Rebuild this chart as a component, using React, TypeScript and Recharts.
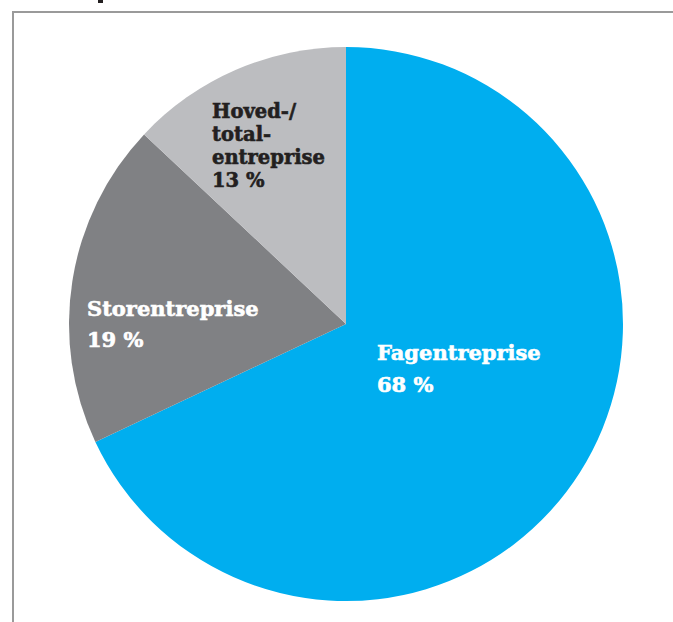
import React from 'react';
import { PieChart, Pie, Cell } from 'recharts';

const categories = ['Fagentreprise', 'Storentreprise', 'Hoved-/total-entreprise'];
const shares = [68, 19, 13];
const labelLines = [
  ['Fagentreprise', '68 %'],
  ['Storentreprise', '19 %'],
  ['Hoved-/', 'total-', 'entreprise', '13 %'],
];

const colors = ['#00aeef', '#808184', '#bcbdc0'];
const textColors = ['#ffffff', '#ffffff', '#231f20'];
// label block position relative to the pie centre (left x, first baseline y)
const labelPos = [
  { dx: 31, dy: 36, size: 21, lh: 32 },
  { dx: -259, dy: -8, size: 21, lh: 31 },
  { dx: -134, dy: -206, size: 19.5, lh: 23 },
];

const data = categories.map((name, i) => ({ name, value: shares[i] }));

const renderLabel = (props: any) => {
  const { cx, cy, index } = props;
  const p = labelPos[index];
  return (
    <text
      x={cx + p.dx}
      y={cy + p.dy}
      fill={textColors[index]}
      stroke={textColors[index]}
      strokeWidth={0.6}
      fontFamily="'DejaVu Serif', serif"
      fontWeight="bold"
      fontSize={p.size}
      textAnchor="start"
    >
      {labelLines[index].map((line, j) => (
        <tspan key={j} x={cx + p.dx} dy={j === 0 ? 0 : p.lh}>
          {line}
        </tspan>
      ))}
    </text>
  );
};

export default function App() {
  return (
    <div style={{ position: 'absolute', left: 0, top: 0, width: 673, height: 622, background: '#fff' }}>
      <div
        style={{
          position: 'absolute',
          left: 12,
          top: 11,
          right: 0,
          bottom: 0,
          borderLeft: '2px solid #9a9a9a',
          borderTop: '2px solid #9a9a9a',
        }}
      />
      <div style={{ position: 'absolute', left: 98, top: 0, width: 5, height: 3, background: '#231f20' }} />
      <div style={{ position: 'absolute', left: 0, top: 0 }}>
        <PieChart width={673} height={622} margin={{ top: 0, right: 0, bottom: 0, left: 0 }}>
          <Pie
            data={data}
            dataKey="value"
            nameKey="name"
            cx={346}
            cy={324}
            outerRadius={277}
            startAngle={90}
            endAngle={-270}
            stroke="none"
            label={renderLabel}
            labelLine={false}
            isAnimationActive={false}
          >
            {data.map((d, i) => (
              <Cell key={d.name} fill={colors[i]} />
            ))}
          </Pie>
        </PieChart>
      </div>
    </div>
  );
}
